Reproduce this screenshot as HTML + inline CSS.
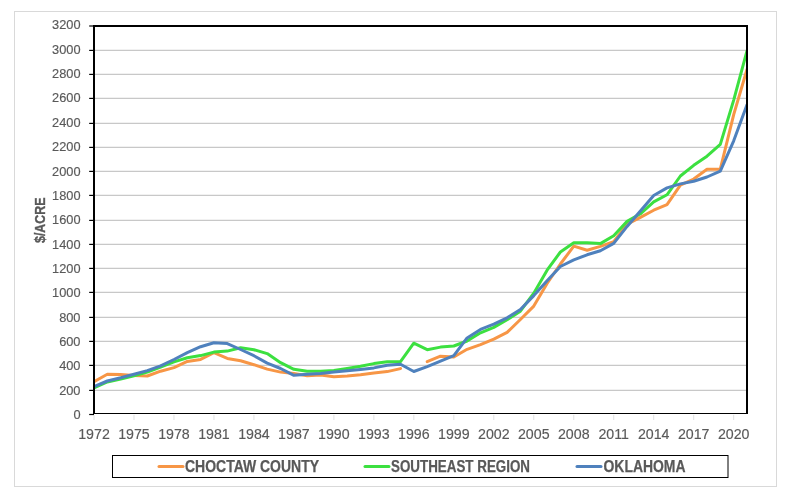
<!DOCTYPE html>
<html><head><meta charset="utf-8"><style>
html,body{margin:0;padding:0;background:#fff;}
body{width:790px;height:500px;overflow:hidden;}
svg{display:block;}
text{font-family:"Liberation Sans",Arial,sans-serif;fill:#595959;}
.tx{filter:grayscale(1);}
.yl{font-size:12.8px;stroke:#595959;stroke-width:0.15px;}
.xl{font-size:14.2px;stroke:#595959;stroke-width:0.15px;}
.yt{font-size:14px;font-weight:bold;stroke:#595959;stroke-width:0.35px;}
.lg{font-size:16px;font-weight:bold;stroke:#595959;stroke-width:0.25px;}
</style></head><body>
<svg width="790" height="500" viewBox="0 0 790 500">
<rect x="14.5" y="11.5" width="762" height="475" fill="#fff" stroke="#D9D9D9" stroke-width="1"/>
<line x1="95" x2="746" y1="390.40" y2="390.40" stroke="#C8C8C8" stroke-width="1.2"/>
<line x1="95" x2="746" y1="365.40" y2="365.40" stroke="#C8C8C8" stroke-width="1.2"/>
<line x1="95" x2="746" y1="341.40" y2="341.40" stroke="#C8C8C8" stroke-width="1.2"/>
<line x1="95" x2="746" y1="317.40" y2="317.40" stroke="#C8C8C8" stroke-width="1.2"/>
<line x1="95" x2="746" y1="292.40" y2="292.40" stroke="#C8C8C8" stroke-width="1.2"/>
<line x1="95" x2="746" y1="268.40" y2="268.40" stroke="#C8C8C8" stroke-width="1.2"/>
<line x1="95" x2="746" y1="244.40" y2="244.40" stroke="#C8C8C8" stroke-width="1.2"/>
<line x1="95" x2="746" y1="220.40" y2="220.40" stroke="#C8C8C8" stroke-width="1.2"/>
<line x1="95" x2="746" y1="195.40" y2="195.40" stroke="#C8C8C8" stroke-width="1.2"/>
<line x1="95" x2="746" y1="171.40" y2="171.40" stroke="#C8C8C8" stroke-width="1.2"/>
<line x1="95" x2="746" y1="147.40" y2="147.40" stroke="#C8C8C8" stroke-width="1.2"/>
<line x1="95" x2="746" y1="123.40" y2="123.40" stroke="#C8C8C8" stroke-width="1.2"/>
<line x1="95" x2="746" y1="98.40" y2="98.40" stroke="#C8C8C8" stroke-width="1.2"/>
<line x1="95" x2="746" y1="74.40" y2="74.40" stroke="#C8C8C8" stroke-width="1.2"/>
<line x1="95" x2="746" y1="50.40" y2="50.40" stroke="#C8C8C8" stroke-width="1.2"/>
<line x1="94.00" x2="94.00" y1="414.8" y2="420" stroke="#E0E0E0" stroke-width="1"/>
<line x1="133.98" x2="133.98" y1="414.8" y2="420" stroke="#E0E0E0" stroke-width="1"/>
<line x1="173.96" x2="173.96" y1="414.8" y2="420" stroke="#E0E0E0" stroke-width="1"/>
<line x1="213.94" x2="213.94" y1="414.8" y2="420" stroke="#E0E0E0" stroke-width="1"/>
<line x1="253.92" x2="253.92" y1="414.8" y2="420" stroke="#E0E0E0" stroke-width="1"/>
<line x1="293.90" x2="293.90" y1="414.8" y2="420" stroke="#E0E0E0" stroke-width="1"/>
<line x1="333.88" x2="333.88" y1="414.8" y2="420" stroke="#E0E0E0" stroke-width="1"/>
<line x1="373.86" x2="373.86" y1="414.8" y2="420" stroke="#E0E0E0" stroke-width="1"/>
<line x1="413.84" x2="413.84" y1="414.8" y2="420" stroke="#E0E0E0" stroke-width="1"/>
<line x1="453.82" x2="453.82" y1="414.8" y2="420" stroke="#E0E0E0" stroke-width="1"/>
<line x1="493.80" x2="493.80" y1="414.8" y2="420" stroke="#E0E0E0" stroke-width="1"/>
<line x1="533.78" x2="533.78" y1="414.8" y2="420" stroke="#E0E0E0" stroke-width="1"/>
<line x1="573.76" x2="573.76" y1="414.8" y2="420" stroke="#E0E0E0" stroke-width="1"/>
<line x1="613.73" x2="613.73" y1="414.8" y2="420" stroke="#E0E0E0" stroke-width="1"/>
<line x1="653.71" x2="653.71" y1="414.8" y2="420" stroke="#E0E0E0" stroke-width="1"/>
<line x1="693.69" x2="693.69" y1="414.8" y2="420" stroke="#E0E0E0" stroke-width="1"/>
<line x1="733.67" x2="733.67" y1="414.8" y2="420" stroke="#E0E0E0" stroke-width="1"/>
<line x1="89.2" x2="94" y1="414.50" y2="414.50" stroke="#000" stroke-width="1.2"/>
<line x1="89.2" x2="94" y1="390.40" y2="390.40" stroke="#000" stroke-width="1.2"/>
<line x1="89.2" x2="94" y1="365.40" y2="365.40" stroke="#000" stroke-width="1.2"/>
<line x1="89.2" x2="94" y1="341.40" y2="341.40" stroke="#000" stroke-width="1.2"/>
<line x1="89.2" x2="94" y1="317.40" y2="317.40" stroke="#000" stroke-width="1.2"/>
<line x1="89.2" x2="94" y1="292.40" y2="292.40" stroke="#000" stroke-width="1.2"/>
<line x1="89.2" x2="94" y1="268.40" y2="268.40" stroke="#000" stroke-width="1.2"/>
<line x1="89.2" x2="94" y1="244.40" y2="244.40" stroke="#000" stroke-width="1.2"/>
<line x1="89.2" x2="94" y1="220.40" y2="220.40" stroke="#000" stroke-width="1.2"/>
<line x1="89.2" x2="94" y1="195.40" y2="195.40" stroke="#000" stroke-width="1.2"/>
<line x1="89.2" x2="94" y1="171.40" y2="171.40" stroke="#000" stroke-width="1.2"/>
<line x1="89.2" x2="94" y1="147.40" y2="147.40" stroke="#000" stroke-width="1.2"/>
<line x1="89.2" x2="94" y1="123.40" y2="123.40" stroke="#000" stroke-width="1.2"/>
<line x1="89.2" x2="94" y1="98.40" y2="98.40" stroke="#000" stroke-width="1.2"/>
<line x1="89.2" x2="94" y1="74.40" y2="74.40" stroke="#000" stroke-width="1.2"/>
<line x1="89.2" x2="94" y1="50.40" y2="50.40" stroke="#000" stroke-width="1.2"/>
<line x1="89.2" x2="94" y1="26.00" y2="26.00" stroke="#000" stroke-width="1.2"/>
<clipPath id="pc"><rect x="94" y="0" width="653" height="500"/></clipPath>
<path clip-path="url(#pc)" d="M94.0,381.6 L107.3,374.3 L120.7,374.6 L134.0,375.5 L147.3,376.0 L160.6,371.2 L174.0,367.6 L187.3,361.4 L200.6,359.4 L213.9,352.7 L227.3,358.4 L240.6,360.8 L253.9,364.7 L267.2,369.1 L280.6,372.1 L293.9,373.6 L307.2,375.7 L320.6,374.9 L333.9,376.7 L347.2,375.9 L360.5,374.8 L373.9,372.9 L387.2,371.6 L400.5,368.6 M427.2,361.7 L440.5,356.2 L453.8,357.0 L467.1,349.3 L480.5,344.6 L493.8,339.1 L507.1,332.4 L520.4,319.5 L533.8,306.1 L547.1,283.5 L560.4,264.0 L573.8,246.1 L587.1,250.2 L600.4,246.4 L613.7,241.6 L627.1,224.2 L640.4,217.3 L653.7,210.2 L667.0,204.7 L680.4,185.1 L693.7,179.0 L707.0,169.2 L720.3,169.2 L733.7,114.7 L747.0,69.4" fill="none" stroke="#F79646" stroke-width="3" stroke-linejoin="round" stroke-linecap="round"/>
<path clip-path="url(#pc)" d="M94.0,387.9 L107.3,382.0 L120.7,379.1 L134.0,375.9 L147.3,372.1 L160.6,367.0 L174.0,361.9 L187.3,357.8 L200.6,355.6 L213.9,352.1 L227.3,351.1 L240.6,347.8 L253.9,349.7 L267.2,353.6 L280.6,362.7 L293.9,369.3 L307.2,371.2 L320.6,371.2 L333.9,370.6 L347.2,368.5 L360.5,366.3 L373.9,363.6 L387.2,361.7 L400.5,361.7 L413.8,343.2 L427.2,349.7 L440.5,347.1 L453.8,346.0 L467.1,341.0 L480.5,332.8 L493.8,327.4 L507.1,319.7 L520.4,311.2 L533.8,293.2 L547.1,270.2 L560.4,252.0 L573.8,242.7 L587.1,242.7 L600.4,243.6 L613.7,235.7 L627.1,221.4 L640.4,213.8 L653.7,201.9 L667.0,194.8 L680.4,176.0 L693.7,165.3 L707.0,156.2 L720.3,144.4 L733.7,100.1 L747.0,50.8" fill="none" stroke="#3CE040" stroke-width="3" stroke-linejoin="round" stroke-linecap="round"/>
<path clip-path="url(#pc)" d="M94.0,386.7 L107.3,381.0 L120.7,377.8 L134.0,374.3 L147.3,370.6 L160.6,365.8 L174.0,359.5 L187.3,352.6 L200.6,346.7 L213.9,342.7 L227.3,343.6 L240.6,349.5 L253.9,355.7 L267.2,363.1 L280.6,368.5 L293.9,375.3 L307.2,374.3 L320.6,373.6 L333.9,372.1 L347.2,370.8 L360.5,369.5 L373.9,367.9 L387.2,365.3 L400.5,364.2 L413.8,371.5 L427.2,366.7 L440.5,361.2 L453.8,355.7 L467.1,337.9 L480.5,329.4 L493.8,324.2 L507.1,317.8 L520.4,309.5 L533.8,295.6 L547.1,280.7 L560.4,266.5 L573.8,259.8 L587.1,254.8 L600.4,250.7 L613.7,243.4 L627.1,226.4 L640.4,211.0 L653.7,195.5 L667.0,187.9 L680.4,183.9 L693.7,181.2 L707.0,177.0 L720.3,171.1 L733.7,140.8 L747.0,104.7" fill="none" stroke="#4F81BD" stroke-width="3" stroke-linejoin="round" stroke-linecap="round"/>
<line x1="93" x2="748" y1="413.5" y2="413.5" stroke="#000" stroke-width="1.1"/>
<path d="M94,414 V26 H747 V414" fill="none" stroke="#000" stroke-width="2"/>
<rect x="112.5" y="455.5" width="615.5" height="22" fill="none" stroke="#000" stroke-width="1"/>
<line x1="159" x2="183" y1="466.5" y2="466.5" stroke="#F79646" stroke-width="3" stroke-linecap="round"/>
<line x1="365" x2="389" y1="466.5" y2="466.5" stroke="#3CE040" stroke-width="3" stroke-linecap="round"/>
<line x1="577" x2="601" y1="466.5" y2="466.5" stroke="#4F81BD" stroke-width="3" stroke-linecap="round"/>
<g class="tx">
<text x="80.5" y="418.90" text-anchor="end" class="yl">0</text>
<text x="80.5" y="394.56" text-anchor="end" class="yl">200</text>
<text x="80.5" y="370.22" text-anchor="end" class="yl">400</text>
<text x="80.5" y="345.88" text-anchor="end" class="yl">600</text>
<text x="80.5" y="321.54" text-anchor="end" class="yl">800</text>
<text x="80.5" y="297.20" text-anchor="end" class="yl">1000</text>
<text x="80.5" y="272.86" text-anchor="end" class="yl">1200</text>
<text x="80.5" y="248.52" text-anchor="end" class="yl">1400</text>
<text x="80.5" y="224.18" text-anchor="end" class="yl">1600</text>
<text x="80.5" y="199.84" text-anchor="end" class="yl">1800</text>
<text x="80.5" y="175.50" text-anchor="end" class="yl">2000</text>
<text x="80.5" y="151.16" text-anchor="end" class="yl">2200</text>
<text x="80.5" y="126.82" text-anchor="end" class="yl">2400</text>
<text x="80.5" y="102.48" text-anchor="end" class="yl">2600</text>
<text x="80.5" y="78.14" text-anchor="end" class="yl">2800</text>
<text x="80.5" y="53.80" text-anchor="end" class="yl">3000</text>
<text x="80.5" y="29.46" text-anchor="end" class="yl">3200</text>
<text x="94.00" y="439" text-anchor="middle" class="xl">1972</text>
<text x="133.98" y="439" text-anchor="middle" class="xl">1975</text>
<text x="173.96" y="439" text-anchor="middle" class="xl">1978</text>
<text x="213.94" y="439" text-anchor="middle" class="xl">1981</text>
<text x="253.92" y="439" text-anchor="middle" class="xl">1984</text>
<text x="293.90" y="439" text-anchor="middle" class="xl">1987</text>
<text x="333.88" y="439" text-anchor="middle" class="xl">1990</text>
<text x="373.86" y="439" text-anchor="middle" class="xl">1993</text>
<text x="413.84" y="439" text-anchor="middle" class="xl">1996</text>
<text x="453.82" y="439" text-anchor="middle" class="xl">1999</text>
<text x="493.80" y="439" text-anchor="middle" class="xl">2002</text>
<text x="533.78" y="439" text-anchor="middle" class="xl">2005</text>
<text x="573.76" y="439" text-anchor="middle" class="xl">2008</text>
<text x="613.73" y="439" text-anchor="middle" class="xl">2011</text>
<text x="653.71" y="439" text-anchor="middle" class="xl">2014</text>
<text x="693.69" y="439" text-anchor="middle" class="xl">2017</text>
<text x="733.67" y="439" text-anchor="middle" class="xl">2020</text>
<text transform="translate(44.6,243) rotate(-90)" class="yt" textLength="45.5" lengthAdjust="spacingAndGlyphs">$/ACRE</text>
<text x="185" y="471.8" class="lg" textLength="134" lengthAdjust="spacingAndGlyphs">CHOCTAW COUNTY</text>
<text x="391" y="471.8" class="lg" textLength="139" lengthAdjust="spacingAndGlyphs">SOUTHEAST REGION</text>
<text x="603.5" y="471.8" class="lg" textLength="82" lengthAdjust="spacingAndGlyphs">OKLAHOMA</text>
</g>
</svg>
</body></html>
